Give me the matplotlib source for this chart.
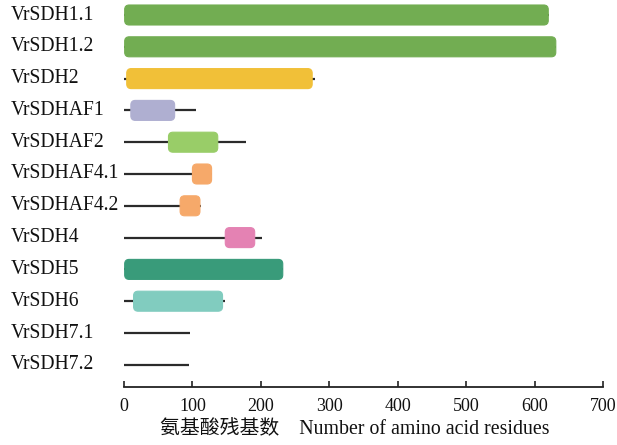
import matplotlib
matplotlib.use("Agg")
import matplotlib.pyplot as plt
from matplotlib.patches import FancyBboxPatch

plt.rcParams['font.family'] = ['Liberation Serif', 'Noto Sans CJK SC', 'DejaVu Sans']

# Protein names, full lengths (aa) and domain spans (aa)
proteins = ["VrSDH1.1", "VrSDH1.2", "VrSDH2", "VrSDHAF1", "VrSDHAF2",
            "VrSDHAF4.1", "VrSDHAF4.2", "VrSDH4", "VrSDH5", "VrSDH6",
            "VrSDH7.1", "VrSDH7.2"]
lengths = [621, 632, 279, 105, 179, 129, 112, 202, 233, 148, 96, 95]
domain_start = [1, 1, 4, 10, 65, 100, 82, 148, 1, 14, None, None]
domain_end = [620, 631, 275, 74, 137, 128, 111, 191, 232, 144, None, None]
domain_colors = ["#72ad52", "#72ad52", "#f1c038", "#afafd1", "#99cd68",
                 "#f6a96a", "#f6a96a", "#e482b3", "#399b7a", "#81ccbf",
                 None, None]

xticks = [0, 100, 200, 300, 400, 500, 600, 700]
xlabel = "氨基酸残基数    Number of amino acid residues"

W, H = 617, 445
dpi = 100
fig = plt.figure(figsize=(W / dpi, H / dpi), dpi=dpi)

ax_left, ax_right = 124, 603
ax_top, ax_bottom = 0, 387
ax = fig.add_axes([ax_left / W, (H - ax_bottom) / H,
                   (ax_right - ax_left) / W, (ax_bottom - ax_top) / H])

row_top_px, row_step_px = 15, 31.8
y_top = -row_top_px / row_step_px
y_bottom = (ax_bottom - row_top_px) / row_step_px
ax.set_xlim(0, 700)
ax.set_ylim(y_bottom, y_top)

# pixel -> data unit conversion for rounded boxes
px_x = 700 / (ax_right - ax_left)
px_y = (y_bottom - y_top) / (ax_bottom - ax_top)
box_h = 20 * px_y
radius = 4.5 * px_x

for i, name in enumerate(proteins):
    ax.plot([0, lengths[i]], [i, i], color="#2b2b2b", lw=1.6,
            solid_capstyle="butt", zorder=2, clip_on=False)
    if domain_start[i] is not None:
        s, e = domain_start[i], domain_end[i]
        box = FancyBboxPatch((s, i - box_h / 2), e - s, box_h,
                             boxstyle=f"round,pad=0,rounding_size={radius}",
                             mutation_aspect=px_y / px_x,
                             facecolor=domain_colors[i],
                             edgecolor=domain_colors[i], lw=0.8,
                             zorder=3, clip_on=False)
        ax.add_patch(box)
    fig.text(11 / W, 1 - (row_top_px + i * row_step_px) / H, name,
             ha="left", va="center", fontsize=14.1, color="#111111")

for sp in ["top", "right", "left"]:
    ax.spines[sp].set_visible(False)
ax.spines["bottom"].set_color("#222222")
ax.spines["bottom"].set_linewidth(1.3)
ax.set_yticks([])
ax.set_xticks(xticks)
ax.set_xticklabels([str(t) for t in xticks])
ax.tick_params(axis="x", direction="in", length=4, width=1.2,
               color="#222222", labelsize=13, pad=8, labelcolor="#111111")

fig.text(354.5 / W, 1 - 430 / H, xlabel, ha="center", va="center",
         fontsize=14.3, color="#111111")

fig.savefig("out.png", dpi=dpi)
